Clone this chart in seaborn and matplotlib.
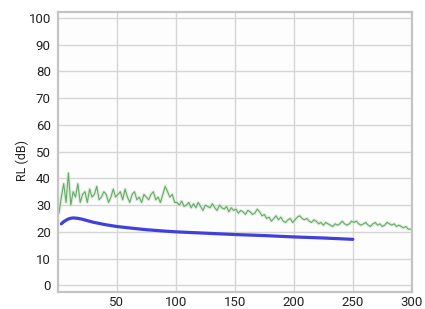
import matplotlib
matplotlib.use("Agg")
import matplotlib.pyplot as plt
import seaborn as sns
import pandas as pd

# Green (measured, noisy) series: x = 1, 3, 5, ..., 299
green_x = list(range(1, 300, 2))
green_y = [
    27, 33, 38, 31, 42, 30, 35, 33, 38, 31, 34, 35, 31, 36, 33, 34, 37, 32, 33, 35, 34, 31, 33, 36, 33,
    34, 35, 32, 36, 33, 31, 34, 35, 32, 33, 31, 34, 33, 32, 34, 35, 32, 33, 31, 34, 37, 35, 33, 34, 31,
    31, 30, 31.5, 29.5, 30, 31, 29, 30.5, 29, 31, 29.5, 28, 30, 29.5, 29, 30.5, 29, 28, 30, 29, 28.5, 29.5, 27.5, 29, 28,
    28.5, 27, 28, 27.5, 26.5, 28, 27.5, 26.5, 27, 28.5, 27.5, 26, 26.5, 25, 25.5, 24, 25, 26, 24.5, 25.5, 24, 23.5, 24.5, 25, 23.5,
    24.5, 25.5, 26, 25, 24.5, 25, 24, 23.5, 24.5, 24, 23, 23.5, 22.5, 23.5, 23, 22.5, 22, 23, 22.5, 23, 24, 23, 22.5, 23, 24,
    23.5, 24, 23, 22.5, 23, 23.5, 22.5, 22, 23, 23.5, 22.5, 23, 22, 22.5, 23.5, 23, 22.5, 23, 22, 22.5, 22, 21.5, 22, 21, 21,
]

# Blue (smooth) series
blue_x = [3, 5, 8, 10, 13, 16, 20, 25, 30, 40, 50, 60, 75, 90, 100, 125, 150, 175, 200, 225, 250]
blue_y = [23, 23.8, 24.6, 25, 25.2, 25.1, 24.8, 24.2, 23.6, 22.7, 22.0, 21.5, 20.8, 20.3, 20.0,
          19.5, 19.0, 18.6, 18.1, 17.7, 17.2]

x_ticks = [50, 100, 150, 200, 250, 300]
y_ticks = list(range(0, 101, 10))

sns.set_style("whitegrid")
plt.rcParams['font.family'] = ['Roboto', 'DejaVu Sans']

fig = plt.figure(figsize=(4.25, 3.09), dpi=100)
ax = fig.add_axes([0.136, 0.055, 0.833, 0.906])
ax.set_facecolor('#fdfdfd')

g_df = pd.DataFrame({'x': green_x, 'y': green_y})
b_df = pd.DataFrame({'x': blue_x, 'y': blue_y})

sns.lineplot(data=g_df, x='x', y='y', ax=ax, color='#c6e4c6', linewidth=2.4, alpha=0.6)
sns.lineplot(data=g_df, x='x', y='y', ax=ax, color='#6aa86a', linewidth=0.8)
sns.lineplot(data=b_df, x='x', y='y', ax=ax, color='#4040dc', linewidth=2.3)

ax.set_xlim(0, 300)
ax.set_ylim(-2.5, 102.2)
ax.set_xticks(x_ticks)
ax.set_yticks(y_ticks)
ax.tick_params(axis='both', labelsize=9.5, length=0, colors='#222222')
ax.tick_params(axis='y', pad=5)
ax.tick_params(axis='x', pad=3)
ax.set_xlabel('')
ax.set_ylabel('RL (dB)', fontsize=9, color='#222222')
ax.yaxis.set_label_coords(-0.08, 0.47)
ax.grid(True, color='#d6d6d6', linewidth=1.0)
for s in ax.spines.values():
    s.set_visible(True)
    s.set_color('#c4c4c4')
    s.set_linewidth(1.6)

fig.savefig('out.png', dpi=100)
